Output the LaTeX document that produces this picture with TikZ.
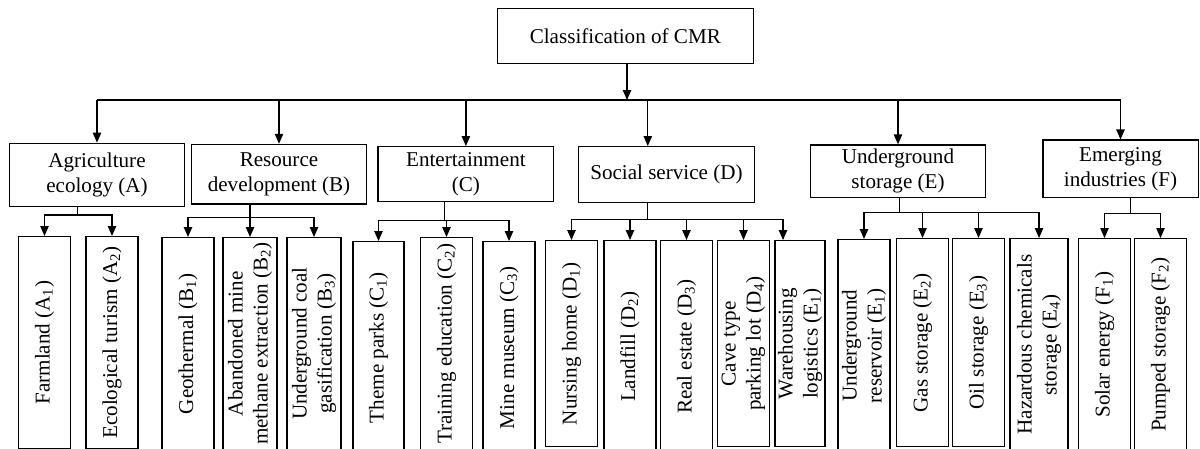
\documentclass[tikz,border=0pt]{standalone}
\usepackage{fontspec}
\setmainfont{Liberation Serif}
\usetikzlibrary{arrows.meta}
\tikzset{
    x=0.025cm,
    y=-0.025cm,
    every node/.append style={
        font=\fontsize{15}{17.8}\selectfont
    },
    catbox/.style={
        draw,
        line width=0.9pt,
        align=center,
        inner sep=1pt
    },
    leafbox/.style={
        draw,
        line width=0.9pt,
        align=center,
        inner sep=1pt,
        rotate=90,
        anchor=east,
        minimum height=1.3cm,
        minimum width=5.3cm
    }
}

\begin{document}
\begin{tikzpicture}[link/.style={draw, line width=0.9pt, -{Triangle[length=0.25cm,width=0.21cm]}}]
                    \useasboundingbox (0,0) rectangle (1200,448);
                    \node[catbox, minimum width=6.39cm, minimum height=1.375cm] (root) at (625.3,35.8) {Classification of CMR};
                    \node[catbox, minimum width=4.37cm, minimum height=1.585cm] (a) at (97,175) {Agriculture\\ecology (A)};
                    \node[catbox, minimum width=4.38cm, minimum height=1.49cm] (b) at (279,174.2) {Resource\\development (B)};
                    \node[catbox, minimum width=4.395cm, minimum height=1.375cm] (c) at (465.9,174.2) {Entertainment\\(C)};
                    \node[catbox, minimum width=4.39cm, minimum height=1.4cm] (d) at (666.4,174.7) {Social service (D)};
                    \node[catbox, minimum width=4.37cm, minimum height=1.32cm] (e) at (898,171.4) {Underground\\storage (E)};
                    \node[catbox, minimum width=3.88cm, minimum height=1.44cm] (f) at (1120.5,168.9) {Emerging\\industries (F)};

                    \node[leafbox] (a1) at (44.5,236) {Farmland (A\textsubscript{1})};
                    \node[leafbox] (a2) at (112,236) {Ecological turism (A\textsubscript{2})};
                    \node[leafbox] (b1) at (188,237) {Geothermal (B\textsubscript{1})};
                    \node[leafbox, minimum height=1.35cm] (b2) at (250,237) {Abandoned mine\\methane extraction (B\textsubscript{2})};
                    \node[leafbox, minimum height=1.35cm] (b3) at (314,237) {Underground coal\\gasification (B\textsubscript{3})};
                    \node[leafbox, minimum height=1.275cm] (c1) at (378.5,241) {Theme parks (C\textsubscript{1})};
                    \node[leafbox] (c2) at (446.5,237) {Training education (C\textsubscript{2})};
                    \node[leafbox] (c3) at (509,241) {Mine museum (C\textsubscript{3})};
                    \node[leafbox, minimum width=5.15cm] (d1) at (571.5,240) {Nursing home (D\textsubscript{1})};
                    \node[leafbox] (d2) at (630,240) {Landfill (D\textsubscript{2})};
                    \node[leafbox] (d3) at (686.5,240) {Real estate (D\textsubscript{3})};
                    \node[leafbox, minimum width=5.15cm] (d4) at (743.5,240) {Cave type\\parking lot (D\textsubscript{4})};
                    \node[leafbox, minimum width=5.15cm, minimum height=1.25cm] (d5) at (800,240) {Warehousing\\logistics (E\textsubscript{1})};
                    \node[leafbox] (e1) at (864,239) {Underground\\reservoir (E\textsubscript{1})};
                    \node[leafbox, minimum width=5.2cm] (e2) at (922.5,238) {Gas storage (E\textsubscript{2})};
                    \node[leafbox, minimum width=5.2cm] (e3) at (978.5,238) {Oil storage (E\textsubscript{3})};
                    \node[leafbox, minimum height=1.45cm] (e4) at (1039,238) {Hazardous chemicals\\storage (E\textsubscript{4})};
                    \node[leafbox] (f1) at (1104.5,238) {Solar energy (F\textsubscript{1})};
                    \node[leafbox] (f2) at (1160.5,238) {Pumped storage (F\textsubscript{2})};

                    \coordinate (bus) at (627,100);
                    \coordinate (dtop) at ([xshift=-0.465cm]d.north);
                    \coordinate (d5top) at ([xshift=-0.425cm]d5.east);
                    \coordinate (ja) at (77.7,215);
                    \coordinate (jb) at (250,217.7);
                    \coordinate (jc) at (444.7,220.3);
                    \coordinate (jd) at (647.8,219.3);
                    \coordinate (je) at (899.7,212.3);
                    \coordinate (jf) at (1130.8,213.3);

                    \draw[link] (root.south -| bus) -- (bus);
                    \draw[line width=0.9pt] (bus -| a) -- (bus -| f);
                    \draw[link] (bus -| a) -- (a);
                    \draw[link] (bus -| b) -- (b);
                    \draw[link] (bus -| c) -- (c);
                    \draw[link] (bus -| dtop) -- (dtop);
                    \draw[link] (bus -| e) -- (e);
                    \draw[link] (bus -| f) -- (f);

                    \draw[line width=0.9pt] (a.south -| ja) -- (ja);
                    \draw[link] (ja) -| (a1);
                    \draw[link] (ja) -| (a2);
                    \draw[line width=0.9pt] (b.south -| jb) -- (jb);
                    \draw[link] (jb) -| (b1);
                    \draw[link] (jb) -| (b2);
                    \draw[link] (jb) -| (b3);
                    \draw[line width=0.9pt] (c.south -| jc) -- (jc);
                    \draw[link] (jc) -| (c1);
                    \draw[link] (jc) -| (c2);
                    \draw[link] (jc) -| (c3);
                    \draw[line width=0.9pt] (d.south -| jd) -- (jd);
                    \draw[link] (jd) -| (d1);
                    \draw[link] (jd) -| (d2);
                    \draw[link] (jd) -| (d3);
                    \draw[link] (jd) -| (d4);
                    \draw[link] (jd) -| (d5top);
                    \draw[line width=0.9pt] (e.south -| je) -- (je);
                    \draw[link] (je) -| (e1);
                    \draw[link] (je) -| (e2);
                    \draw[link] (je) -| (e3);
                    \draw[link] (je) -| (e4);
                    \draw[line width=0.9pt] (f.south -| jf) -- (jf);
                    \draw[link] (jf) -| (f1);
                    \draw[link] (jf) -| (f2);
                \end{tikzpicture}
\end{document}
